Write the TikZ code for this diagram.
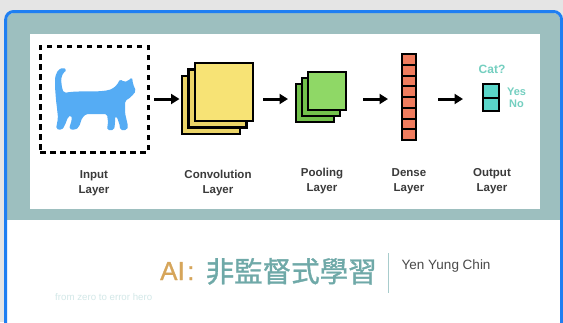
\documentclass[tikz,border=0pt]{standalone}
\usepackage{fontspec}
\setmainfont{Liberation Sans}
\newfontfamily\cjk[FakeBold=1.2]{Noto Sans CJK TC}
\newfontfamily\titlelatin[FakeBold=1]{Liberation Sans}
\usetikzlibrary{arrows.meta}

\definecolor{pagegray}{HTML}{E5E5E5}
\definecolor{cardblue}{HTML}{1F7FF2}
\definecolor{bandteal}{HTML}{9DBFBF}
\definecolor{catblue}{HTML}{55ACF4}
\definecolor{convfront}{HTML}{F7E375}
\definecolor{convback}{HTML}{EBD468}
\definecolor{poolfront}{HTML}{8FD866}
\definecolor{poolback}{HTML}{73C24C}
\definecolor{densered}{HTML}{F07C5E}
\definecolor{outcyan}{HTML}{5AD6C9}
\definecolor{answer}{HTML}{74CFC0}
\definecolor{labelgray}{HTML}{3A3A3A}
\definecolor{titlegold}{HTML}{D6A55A}
\definecolor{titleteal}{HTML}{6FA9A8}
\definecolor{rulecol}{HTML}{A8CCCC}
\definecolor{authorgray}{HTML}{4A4A4A}
\definecolor{taglight}{HTML}{D3E8E8}

\tikzset{
  stage/.style={inner sep=0pt, outer sep=0pt, minimum height=40pt},
  flow/.style={line width=3pt, -{Triangle[length=8.5pt,width=10pt]}},
  layerlabel/.style={align=center, text=labelgray, inner sep=0pt,
    font=\fontsize{11.5}{15}\selectfont\bfseries},
  sheet/.style={draw=black, line width=2.8pt},
}

\begin{document}
\begin{tikzpicture}[x=1pt, y=-1pt]
  \useasboundingbox (0,0) rectangle (563,322);
  \clip (0,0) rectangle (563,322);

  % page and card
  \fill[pagegray] (0,0) rectangle (563,322);
  \fill[white, rounded corners=8pt] (5.7,11.5) rectangle (561.5,345);
  \begin{scope}
    \clip[rounded corners=7pt] (7,13) rectangle (560,345);
    \fill[bandteal] (0,0) rectangle (563,220);
  \end{scope}
  \draw[cardblue, line width=3pt, rounded corners=8pt] (5.7,11.5) rectangle (561.5,345);

  % white diagram panel
  \fill[white] (29.5,34) rectangle (539.5,209);

  % stage frames (used as connector ends)
  \node[stage, draw=black, line width=3pt, dash pattern=on 5.5pt off 4.5pt,
        minimum width=108pt, minimum height=106pt] (inbox) at (94,99) {};
  \node[stage, minimum width=71pt] (conv) at (217.5,99) {};
  \node[stage, minimum width=50pt] (pool) at (321,99) {};
  \node[stage, minimum width=14pt] (dense) at (409,99) {};
  \node[stage, minimum width=16pt] (outp) at (491,99) {};

  % cat silhouette
  \fill[catblue, rounded corners=1.8pt]
    (64,93) .. controls (80,90) and (100,93) .. (112,89)
    -- (117,85) -- (120,79) -- (124,82) -- (128,81) -- (132,77) -- (133,84)
    -- (136,91) -- (131,97) -- (125,101)
    -- (125,113) -- (128,126) -- (127,130) -- (120,130) -- (120,126) -- (117,117)
    -- (115,116)
    -- (115,124) -- (114,130) -- (107,130) -- (108,122) -- (107,114)
    -- (96,114) -- (86,114)
    -- (82,118) -- (79,127) -- (75,130) -- (69,129) -- (72,119) -- (71,115)
    -- (68,117)
    -- (65,125) -- (62,130) -- (56,129) -- (58,118) -- (57,108)
    -- (56,100) -- (55,87) -- (55,77) -- (58,70) -- (63,67.5) -- (67,70)
    -- (63,73) -- (61,79) -- (62,88) -- cycle;

  % convolution feature maps
  \filldraw[sheet, fill=convback]  (182,76)     rectangle (240,134);
  \filldraw[sheet, fill=convback]  (188.5,69.5) rectangle (246.5,127.5);
  \filldraw[sheet, fill=convfront] (195,63)     rectangle (253,121);

  % pooled maps
  \filldraw[sheet, fill=poolback]  (296,84) rectangle (334,122);
  \filldraw[sheet, fill=poolback]  (302,78) rectangle (340,116);
  \filldraw[sheet, fill=poolfront] (308,72) rectangle (346,110);

  % dense column of eight units
  \fill[densered] (402,54) rectangle (416,140);
  \foreach \k in {1,...,7}
    \draw[black, line width=2pt] (402,54+10.75*\k) -- (416,54+10.75*\k);
  \draw[black, line width=2.8pt] (402,54) rectangle (416,140);

  % output pair
  \fill[outcyan] (483,84) rectangle (499,111);
  \draw[black, line width=2pt] (483,97.5) -- (499,97.5);
  \draw[black, line width=2.8pt] (483,84) rectangle (499,111);
  \node[text=answer, font=\fontsize{12}{14}\selectfont\bfseries] (cat) at (492,69) {Cat?};
  \node[text=answer, font=\fontsize{11}{12.5}\selectfont\bfseries, align=center,
        inner sep=0pt] (yesno) at (516.5,98) {Yes\\No};

  % connectors
  \draw[flow, shorten <=6pt,  shorten >=2.5pt] (inbox.east) -- (conv.west);
  \draw[flow, shorten <=10pt, shorten >=8pt]   (conv.east)  -- (pool.west);
  \draw[flow, shorten <=17pt, shorten >=14pt]  (pool.east)  -- (dense.west);
  \draw[flow, shorten <=22pt, shorten >=20pt]  (dense.east) -- (outp.west);

  % layer captions
  \node[layerlabel] (l1) at (94,183.5)  {Input\\Layer};
  \node[layerlabel] (l2) at (218,183.5) {Convolution\\Layer};
  \node[layerlabel] (l3) at (322,181.5) {Pooling\\Layer};
  \node[layerlabel] (l4) at (409,181.5) {Dense\\Layer};
  \node[layerlabel] (l5) at (492,181.5) {Output\\Layer};

  % title block
  \node[anchor=base west, inner sep=0pt, text=titlegold,
        font=\titlelatin\fontsize{26}{30}\selectfont] (ai) at (160,280) {AI\kern2.5pt:};
  \node[anchor=base west, inner sep=0pt, text=titleteal,
        font=\cjk\fontsize{28.5}{32}\selectfont] (title) at (205.5,282) {非監督式學習};
  \draw[rulecol, line width=1pt] (388,253) -- (388,293);
  \node[anchor=base west, inner sep=0pt, text=authorgray,
        font=\fontsize{13.5}{15}\selectfont] (author) at (401.5,269.5) {Yen Yung Chin};
  \node[anchor=west, inner sep=0pt, text=taglight,
        font=\fontsize{9.7}{11}\selectfont] (tag) at (55,297) {from zero to error hero};
\end{tikzpicture}
\end{document}
